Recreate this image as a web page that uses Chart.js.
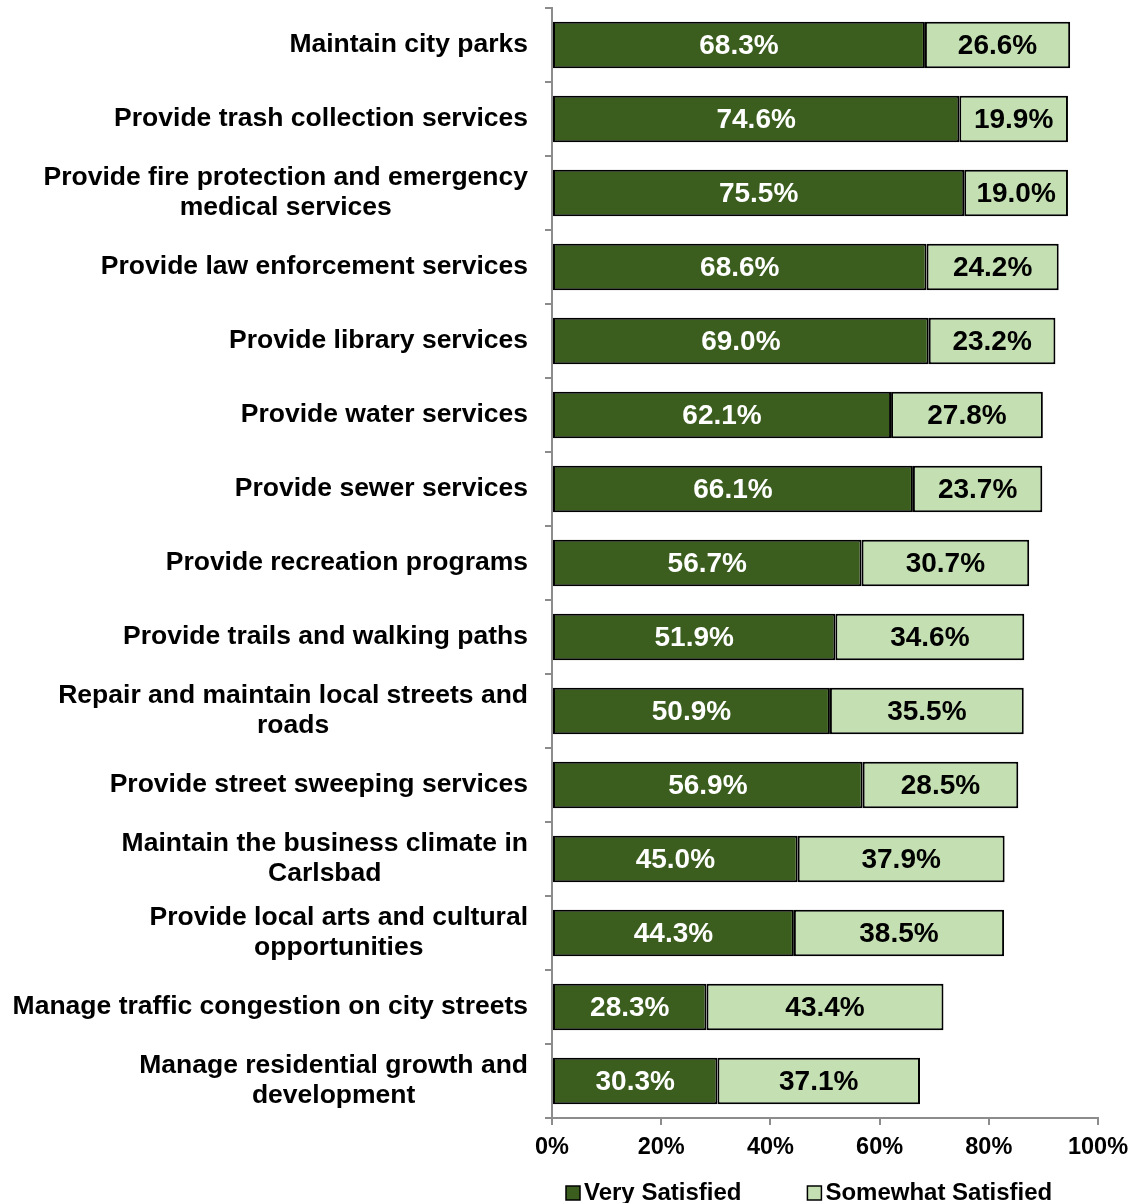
<!DOCTYPE html>
<html>
<head>
<meta charset="utf-8">
<script src="https://cdn.jsdelivr.net/npm/chart.js@4/dist/chart.umd.min.js"></script>
<style>
  html, body { margin: 0; padding: 0; background: #ffffff; }
  #wrap { width: 1134px; height: 1203px; position: relative; }
</style>
</head>
<body>
<div id="wrap"><canvas id="chart" width="1134" height="1203"></canvas></div>
<script>
// Service categories (multi-line entries are wrapped labels)
const categories = [
  'Maintain city parks',
  'Provide trash collection services',
  ['Provide fire protection and emergency', 'medical services'],
  'Provide law enforcement services',
  'Provide library services',
  'Provide water services',
  'Provide sewer services',
  'Provide recreation programs',
  'Provide trails and walking paths',
  ['Repair and maintain local streets and', 'roads'],
  'Provide street sweeping services',
  ['Maintain the business climate in', 'Carlsbad'],
  ['Provide local arts and cultural', 'opportunities'],
  'Manage traffic congestion on city streets',
  ['Manage residential growth and', 'development']
];

// Percent of respondents
const verySatisfied = [68.3, 74.6, 75.5, 68.6, 69.0, 62.1, 66.1, 56.7, 51.9, 50.9, 56.9, 45.0, 44.3, 28.3, 30.3];
const somewhatSatisfied = [26.6, 19.9, 19.0, 24.2, 23.2, 27.8, 23.7, 30.7, 34.6, 35.5, 28.5, 37.9, 38.5, 43.4, 37.1];

const seriesNames = ['Very Satisfied', 'Somewhat Satisfied'];
const xTicks = [0, 20, 40, 60, 80, 100];

const FONT = "'Liberation Sans', Arial, Helvetica, sans-serif";
const DARK = '#3B5E1F';
const LIGHT = '#C4E0B2';
const AXIS = '#8C8C8C';

// Category names: each block right-aligned to the axis, lines centred within the block
const categoryLabels = {
  id: 'categoryLabels',
  afterDraw(chart) {
    const ctx = chart.ctx;
    const scale = chart.scales.y;
    ctx.save();
    ctx.font = 'bold 26.5px ' + FONT;
    ctx.fillStyle = '#000000';
    ctx.textAlign = 'center';
    ctx.textBaseline = 'middle';
    const right = scale.right - 24;
    const lineH = 30;
    chart.data.labels.forEach((lab, i) => {
      const lines = Array.isArray(lab) ? lab : [lab];
      const w = Math.max(...lines.map(l => ctx.measureText(l).width));
      const cx = right - w / 2;
      const cy = scale.getPixelForValue(i);
      const y0 = cy - (lines.length - 1) * lineH / 2;
      lines.forEach((l, k) => ctx.fillText(l, cx, y0 + k * lineH));
    });
    ctx.restore();
  }
};

// Percent value printed in the middle of every bar segment
const valueLabels = {
  id: 'valueLabels',
  afterDatasetsDraw(chart) {
    const ctx = chart.ctx;
    ctx.save();
    ctx.font = 'bold 28px ' + FONT;
    ctx.textAlign = 'center';
    ctx.textBaseline = 'middle';
    chart.data.datasets.forEach((ds, di) => {
      const meta = chart.getDatasetMeta(di);
      ctx.fillStyle = di === 0 ? '#ffffff' : '#000000';
      meta.data.forEach((bar, i) => {
        const p = bar.getProps(['x', 'y', 'base'], true);
        const cx = (p.x + p.base) / 2;
        ctx.fillText(ds.data[i].toFixed(1) + '%', cx, p.y + 1);
      });
    });
    ctx.restore();
  }
};

// Legend row below the x axis
const bottomLegend = {
  id: 'bottomLegend',
  afterDraw(chart) {
    const ctx = chart.ctx;
    const area = chart.chartArea;
    ctx.save();
    ctx.font = 'bold 24px ' + FONT;
    ctx.textBaseline = 'middle';
    const y = 1193;
    let x = area.left + 14;
    chart.data.datasets.forEach((ds) => {
      ctx.fillStyle = ds.backgroundColor;
      ctx.fillRect(x, y - 7, 14, 14);
      ctx.strokeStyle = '#000000';
      ctx.lineWidth = 1.5;
      ctx.strokeRect(x, y - 7, 14, 14);
      ctx.fillStyle = '#000000';
      ctx.textAlign = 'left';
      ctx.fillText(ds.label, x + 18, y);
      x += 18 + ctx.measureText(ds.label).width + 66;
    });
    ctx.restore();
  }
};

new Chart(document.getElementById('chart'), {
  type: 'bar',
  data: {
    labels: categories,
    datasets: [
      {
        label: seriesNames[0],
        data: verySatisfied,
        backgroundColor: DARK,
        borderColor: '#000000',
        borderWidth: 2,
        borderSkipped: false
      },
      {
        label: seriesNames[1],
        data: somewhatSatisfied,
        backgroundColor: LIGHT,
        borderColor: '#000000',
        borderWidth: 2,
        borderSkipped: false
      }
    ]
  },
  options: {
    indexAxis: 'y',
    responsive: false,
    animation: false,
    devicePixelRatio: 1,
    layout: { padding: { top: 8, right: 36, bottom: 0, left: 0 } },
    datasets: {
      bar: { categoryPercentage: 1.0, barPercentage: 0.63 }
    },
    scales: {
      x: {
        stacked: true,
        min: 0,
        max: 100,
        afterBuildTicks(scale) {
          scale.ticks = xTicks.map(v => ({ value: v }));
        },
        afterFit(scale) {
          scale.height = 85;
          scale.paddingLeft = 0;
          scale.paddingRight = 0;
        },
        grid: {
          drawOnChartArea: false,
          drawTicks: true,
          tickLength: 7,
          color: AXIS,
          lineWidth: 2
        },
        border: { display: true, color: AXIS, width: 2 },
        ticks: {
          padding: 8,
          color: '#000000',
          font: { family: FONT, size: 23.5, weight: 'bold' },
          callback: v => v + '%',
          maxRotation: 0
        }
      },
      y: {
        stacked: true,
        afterFit(scale) {
          scale.width = 552;
          scale.paddingTop = 0;
          scale.paddingBottom = 0;
        },
        grid: {
          offset: true,
          drawOnChartArea: false,
          drawTicks: true,
          tickLength: 7,
          color: AXIS,
          lineWidth: 2
        },
        border: { display: true, color: AXIS, width: 2 },
        ticks: { display: false }
      }
    },
    plugins: {
      legend: { display: false },
      tooltip: { enabled: false }
    }
  },
  plugins: [valueLabels, categoryLabels, bottomLegend]
});
</script>
</body>
</html>
